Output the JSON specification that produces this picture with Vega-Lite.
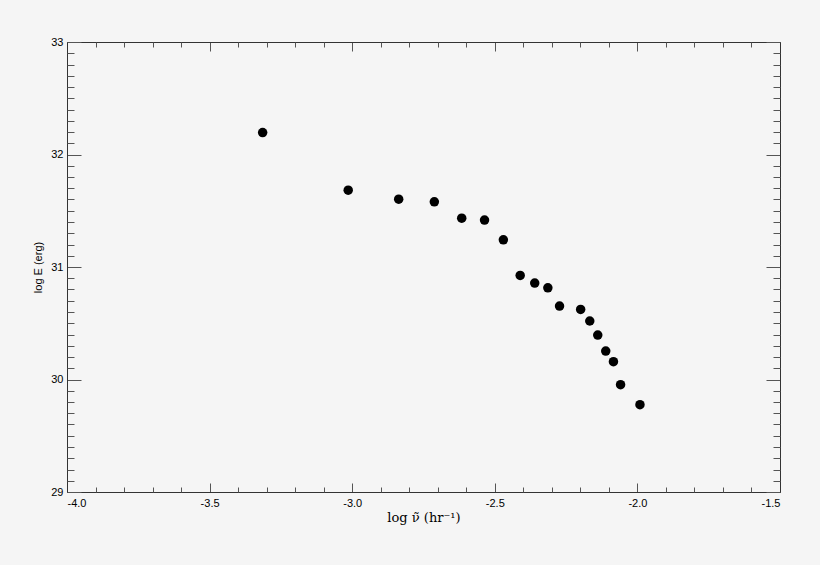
{
  "$schema": "https://vega.github.io/schema/vega-lite/v6.json",
  "width": 713,
  "height": 450,
  "autosize": "none",
  "padding": {"left": 67, "top": 42, "right": 40, "bottom": 73},
  "background": "#f5f5f5",
  "config": {
    "view": {"stroke": null},
    "axis": {
      "grid": false,
      "labelFont": "Liberation Sans",
      "labelFontSize": 11,
      "labelColor": "#000000",
      "domainColor": "#333333",
      "tickColor": "#555555",
      "titleFont": "Liberation Sans",
      "titleFontWeight": "normal",
      "titleColor": "#000000"
    }
  },
  "data": {
    "values": [
      {"log_nu": -3.314, "log_E": 32.195},
      {"log_nu": -3.014, "log_E": 31.683},
      {"log_nu": -2.837, "log_E": 31.603},
      {"log_nu": -2.712, "log_E": 31.579},
      {"log_nu": -2.616, "log_E": 31.434},
      {"log_nu": -2.536, "log_E": 31.417},
      {"log_nu": -2.470, "log_E": 31.242},
      {"log_nu": -2.411, "log_E": 30.925},
      {"log_nu": -2.360, "log_E": 30.857},
      {"log_nu": -2.314, "log_E": 30.815},
      {"log_nu": -2.273, "log_E": 30.653},
      {"log_nu": -2.199, "log_E": 30.623},
      {"log_nu": -2.167, "log_E": 30.520},
      {"log_nu": -2.139, "log_E": 30.395},
      {"log_nu": -2.111, "log_E": 30.253},
      {"log_nu": -2.084, "log_E": 30.158},
      {"log_nu": -2.059, "log_E": 29.954},
      {"log_nu": -1.991, "log_E": 29.776}
    ]
  },
  "layer": [
    {
      "mark": {"type": "circle", "size": 90, "color": "#000000", "opacity": 1},
      "encoding": {
        "x": {
          "field": "log_nu", "type": "quantitative",
          "scale": {"domain": [-4, -1.5], "nice": false, "zero": false},
          "axis": {
            "orient": "bottom",
            "values": [-4, -3.5, -3, -2.5, -2, -1.5],
            "labelExpr": "replace(format(datum.value, '.1f'), '\u2212', '-')",
            "tickSize": -9,
            "labelPadding": 14,
            "title": "log ν\u0303 (hr\u207b\u00b9)",
            "titleFont": "DejaVu Serif",
            "titleFontSize": 13,
            "titlePadding": 3
          }
        },
        "y": {
          "field": "log_E", "type": "quantitative",
          "scale": {"domain": [29, 33], "nice": false, "zero": false},
          "axis": {
            "orient": "left",
            "values": [29, 30, 31, 32, 33],
            "format": "d",
            "tickSize": -14,
            "labelPadding": 18,
            "title": "log E (erg)",
            "titleFontSize": 11,
            "titlePadding": 7
          }
        }
      }
    },
    {
      "mark": {"type": "circle", "opacity": 0},
      "encoding": {
        "x": {
          "field": "log_nu", "type": "quantitative",
          "scale": {"domain": [-4, -1.5], "nice": false, "zero": false},
          "axis": {
            "orient": "bottom",
            "values": [-3.9, -3.8, -3.7, -3.6, -3.4, -3.3, -3.2, -3.1, -2.9, -2.8, -2.7, -2.6, -2.4, -2.3, -2.2, -2.1, -1.9, -1.8, -1.7, -1.6],
            "tickSize": -5,
            "labels": false,
            "domain": false,
            "title": null
          }
        },
        "y": {
          "field": "log_E", "type": "quantitative",
          "scale": {"domain": [29, 33], "nice": false, "zero": false},
          "axis": {
            "orient": "left",
            "values": [29.1, 29.2, 29.3, 29.4, 29.5, 29.6, 29.7, 29.8, 29.9, 30.1, 30.2, 30.3, 30.4, 30.5, 30.6, 30.7, 30.8, 30.9, 31.1, 31.2, 31.3, 31.4, 31.5, 31.6, 31.7, 31.8, 31.9, 32.1, 32.2, 32.3, 32.4, 32.5, 32.6, 32.7, 32.8, 32.9],
            "tickSize": -7,
            "labels": false,
            "domain": false,
            "title": null
          }
        }
      }
    },
    {
      "mark": {"type": "circle", "opacity": 0},
      "encoding": {
        "x": {
          "field": "log_nu", "type": "quantitative",
          "scale": {"domain": [-4, -1.5], "nice": false, "zero": false},
          "axis": {
            "orient": "top",
            "values": [-4, -3.5, -3, -2.5, -2, -1.5],
            "tickSize": -9,
            "labels": false,
            "title": null
          }
        },
        "y": {
          "field": "log_E", "type": "quantitative",
          "scale": {"domain": [29, 33], "nice": false, "zero": false},
          "axis": {
            "orient": "right",
            "values": [29, 30, 31, 32, 33],
            "tickSize": -14,
            "labels": false,
            "title": null
          }
        }
      }
    },
    {
      "mark": {"type": "circle", "opacity": 0},
      "encoding": {
        "x": {
          "field": "log_nu", "type": "quantitative",
          "scale": {"domain": [-4, -1.5], "nice": false, "zero": false},
          "axis": {
            "orient": "top",
            "values": [-3.9, -3.8, -3.7, -3.6, -3.4, -3.3, -3.2, -3.1, -2.9, -2.8, -2.7, -2.6, -2.4, -2.3, -2.2, -2.1, -1.9, -1.8, -1.7, -1.6],
            "tickSize": -5,
            "labels": false,
            "domain": false,
            "title": null
          }
        },
        "y": {
          "field": "log_E", "type": "quantitative",
          "scale": {"domain": [29, 33], "nice": false, "zero": false},
          "axis": {
            "orient": "right",
            "values": [29.1, 29.2, 29.3, 29.4, 29.5, 29.6, 29.7, 29.8, 29.9, 30.1, 30.2, 30.3, 30.4, 30.5, 30.6, 30.7, 30.8, 30.9, 31.1, 31.2, 31.3, 31.4, 31.5, 31.6, 31.7, 31.8, 31.9, 32.1, 32.2, 32.3, 32.4, 32.5, 32.6, 32.7, 32.8, 32.9],
            "tickSize": -7,
            "labels": false,
            "domain": false,
            "title": null
          }
        }
      }
    }
  ],
  "resolve": {"axis": {"x": "independent", "y": "independent"}}
}
